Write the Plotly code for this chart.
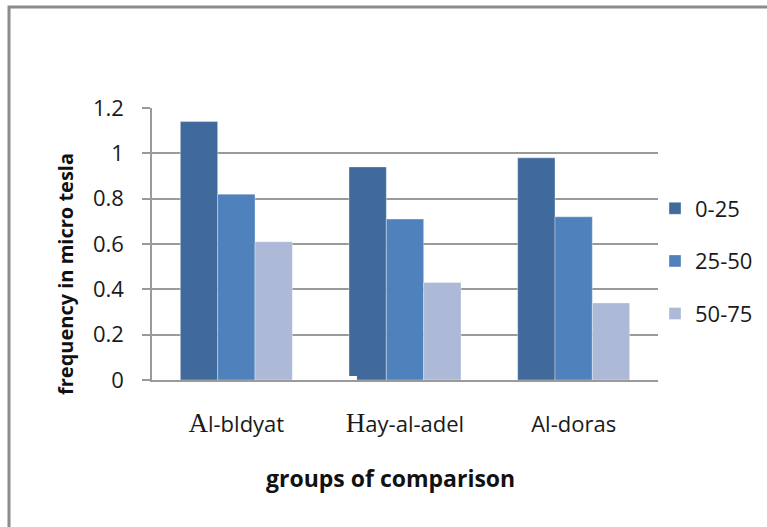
import plotly.graph_objects as go

# Field strength by distance band for three districts
categories = ["Al-bldyat", "Hay-al-adel", "Al-doras"]
tick_labels = [
    '<span style="font-family:\'Liberation Serif\', serif; font-size:27px">A</span>l-bldyat',
    '<span style="font-family:\'Liberation Serif\', serif; font-size:27px">H</span>ay-al-adel',
    "Al-doras",
]
series_names = ["0-25", "25-50", "50-75"]
vals_0_25 = [1.14, 0.94, 0.98]
vals_25_50 = [0.82, 0.71, 0.72]
vals_50_75 = [0.61, 0.43, 0.34]
y_ticks = [0, 0.2, 0.4, 0.6, 0.8, 1, 1.2]
y_tick_text = ["0", "0.2", "0.4", "0.6", "0.8", "1", "1.2"]

colors = ["#406A9B", "#4F81BD", "#ACBAD8"]
series = [vals_0_25, vals_25_50, vals_50_75]

W, H = 767, 527
ML, MR, MT, MB = 152, 109, 108, 147
PW, PH = W - ML - MR, H - MT - MB


def px_x(p):
    return (p - ML) / PW


def px_y(p):
    return (H - MB - p) / PH


FONT = "Open Sans"
GRID = "#9a9a9a"

fig = go.Figure()
for i, (name, vals) in enumerate(zip(series_names, series)):
    fig.add_trace(go.Bar(
        x=categories, y=vals, name=name,
        marker=dict(color=colors[i], line=dict(color="rgba(255,255,255,0.35)", width=1)),
        legendgroup=name,
    ))

fig.update_layout(
    width=W, height=H,
    margin=dict(l=ML, r=MR, t=MT, b=MB, pad=0, autoexpand=False),
    paper_bgcolor="white", plot_bgcolor="white",
    barmode="group", bargap=0.336, bargroupgap=0,
    font=dict(family=FONT, size=21, color="#1a1a1a"),
    showlegend=True,
    legend=dict(
        x=px_x(655), xanchor="left", y=px_y(261), yanchor="middle",
        font=dict(family=FONT, size=22, color="#1a1a1a"),
        tracegroupgap=21, bgcolor="rgba(0,0,0,0)",
    ),
    xaxis=dict(
        type="category", tickmode="array", tickvals=categories, ticktext=tick_labels,
        showgrid=False, showline=True, linecolor=GRID, linewidth=1.5,
        ticks="", ticklabelstandoff=24,
        tickfont=dict(family=FONT, size=22, color="#1a1a1a"),
    ),
    yaxis=dict(
        range=[0, 1.2], tickmode="array", tickvals=y_ticks, ticktext=y_tick_text,
        showgrid=True, gridcolor=GRID, gridwidth=1.5,
        showline=True, linecolor=GRID, linewidth=1.5,
        ticks="outside", ticklen=8, tickcolor=GRID, tickwidth=1.5,
        ticklabelstandoff=14, zeroline=False,
        tickfont=dict(family=FONT, size=22, color="#1a1a1a"),
    ),
    annotations=[
        dict(text="<b>frequency in micro tesla</b>", textangle=-90,
             xref="paper", yref="paper", x=px_x(65), y=px_y(274),
             xanchor="center", yanchor="middle", showarrow=False,
             font=dict(family=FONT, size=20, color="#111")),
        dict(text="<b>groups of comparison</b>",
             xref="paper", yref="paper", x=px_x(390), y=px_y(478),
             xanchor="center", yanchor="middle", showarrow=False,
             font=dict(family=FONT, size=23, color="#111")),
    ],
    shapes=[
        # chart frame
        dict(type="rect", xref="paper", yref="paper",
             x0=px_x(9), x1=px_x(W + 20), y0=px_y(H + 20), y1=px_y(7),
             line=dict(color="#8c8c8c", width=3), fillcolor="rgba(0,0,0,0)", layer="above"),
        # white patch over the baseline between the first two groups
        dict(type="rect", xref="x", yref="y",
             x0=0.472, x1=0.715, y0=-0.02, y1=0.0176,
             line=dict(width=0), fillcolor="white", layer="above"),
    ],
)

fig.write_html("out.html")
